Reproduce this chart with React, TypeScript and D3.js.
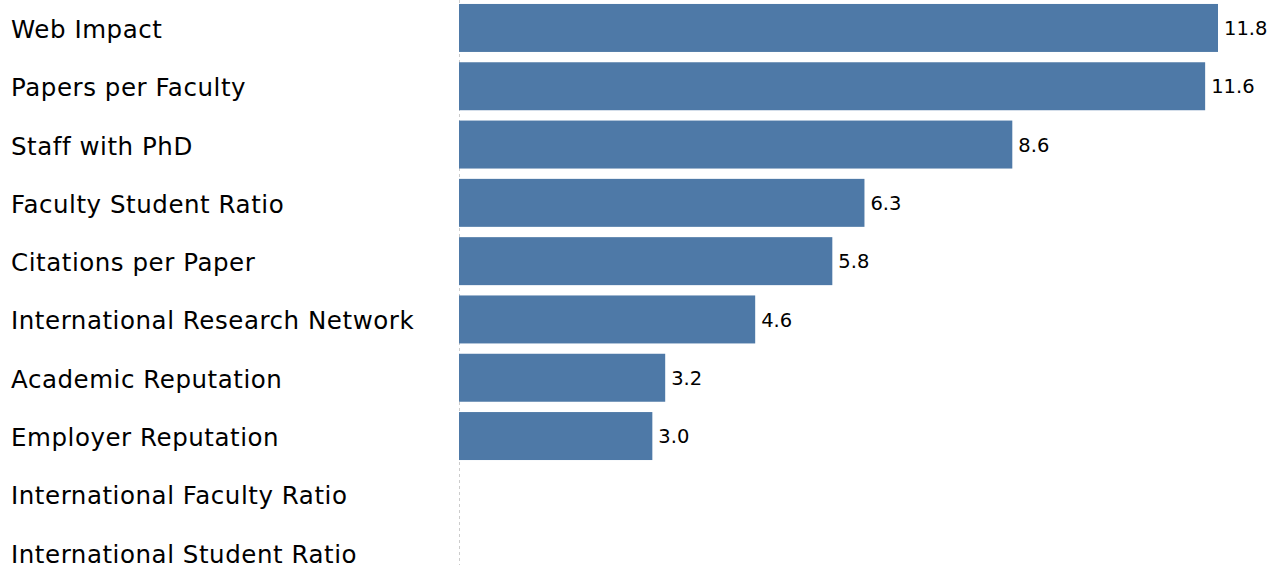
import React from "react";
import * as d3 from "d3";

const categories = [
  "Web Impact",
  "Papers per Faculty",
  "Staff with PhD",
  "Faculty Student Ratio",
  "Citations per Paper",
  "International Research Network",
  "Academic Reputation",
  "Employer Reputation",
  "International Faculty Ratio",
  "International Student Ratio",
];
const values = [11.8, 11.6, 8.6, 6.3, 5.8, 4.6, 3.2, 3.0, 0, 0];

const W = 1279;
const H = 565;
const x0 = 459.5;

export default function App() {
  const x = d3.scaleLinear().domain([0, 11.8]).range([x0, 1218]);
  const y = d3
    .scaleBand<string>()
    .domain(categories)
    .range([-1.2, 581.8])
    .paddingInner(0.177)
    .paddingOuter(0.0885);

  return (
    <svg
      width={W}
      height={H}
      style={{ position: "absolute", left: 0, top: 0, background: "#fff" }}
      fontFamily="DejaVu Sans, sans-serif"
    >
      <line x1={x0} x2={x0} y1={0} y2={H} stroke="#cccccc" strokeWidth={1} strokeDasharray="3,3" />
      {categories.map((c, i) => {
        const v = values[i];
        const yc = (y(c) as number) + y.bandwidth() / 2;
        return (
          <g key={c}>
            <text x={11} y={yc + 10} fontSize={24.5} letterSpacing={0.55} fill="#000">
              {c}
            </text>
            {v > 0 && (
              <>
                <rect
                  x={x0 - 0.5}
                  y={y(c)}
                  width={x(v) - x0 + 0.5}
                  height={y.bandwidth()}
                  fill="#4e79a7"
                />
                <text x={x(v) + 6} y={yc + 7.2} fontSize={19.5} fill="#000">
                  {v.toFixed(1)}
                </text>
              </>
            )}
          </g>
        );
      })}
    </svg>
  );
}
